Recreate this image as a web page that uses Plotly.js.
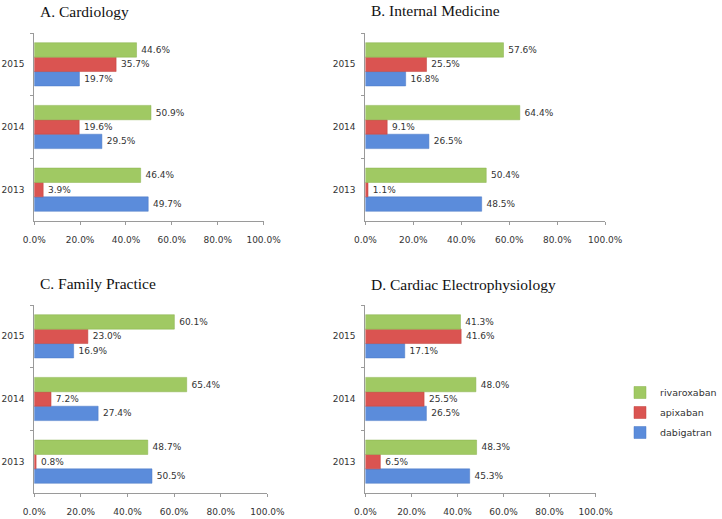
<!DOCTYPE html>
<html>
<head>
<meta charset="utf-8">
<script src="https://cdn.plot.ly/plotly-3.0.1.min.js"></script>
<style>html,body{margin:0;padding:0;background:#fff}#chart{width:722px;height:519px}</style>
</head>
<body>
<div id="chart"></div>
<script>
var years = ['2013', '2014', '2015'];
var seriesNames = ['dabigatran', 'apixaban', 'rivaroxaban'];
var panelTitles = ['A. Cardiology', 'B. Internal Medicine', 'C. Family Practice', 'D. Cardiac Electrophysiology'];
var tickVals = [0, 20, 40, 60, 80, 100];

// values in percent, order: 2013, 2014, 2015
var cardiologyDabigatran = [49.7, 29.5, 19.7];
var cardiologyApixaban = [3.9, 19.6, 35.7];
var cardiologyRivaroxaban = [46.4, 50.9, 44.6];

var internalDabigatran = [48.5, 26.5, 16.8];
var internalApixaban = [1.1, 9.1, 25.5];
var internalRivaroxaban = [50.4, 64.4, 57.6];

var familyDabigatran = [50.5, 27.4, 16.9];
var familyApixaban = [0.8, 7.2, 23.0];
var familyRivaroxaban = [48.7, 65.4, 60.1];

var epDabigatran = [45.3, 26.5, 17.1];
var epApixaban = [6.5, 25.5, 41.6];
var epRivaroxaban = [48.3, 48.0, 41.3];

var panels = [
  [cardiologyDabigatran, cardiologyApixaban, cardiologyRivaroxaban],
  [internalDabigatran, internalApixaban, internalRivaroxaban],
  [familyDabigatran, familyApixaban, familyRivaroxaban],
  [epDabigatran, epApixaban, epRivaroxaban]
];

var colors = ['#5B8CDB', '#DA5451', '#A0C963'];
var lineColors = ['#4A78C4', '#C0403D', '#88B04C'];

var W = 722, H = 519;
// pixel boxes of plot areas: [left, right, top, bottom]
var boxes = [
  [36, 277, 33, 221],
  [384, 636, 33, 221],
  [36, 281, 305, 493],
  [384, 626, 305, 493]
];
var titlePos = [[40, 12], [388, 11], [40, 283], [388, 284]];

var data = [];
var layout = {
  width: W, height: H,
  margin: {l: 0, r: 0, t: 0, b: 0},
  paper_bgcolor: '#ffffff',
  plot_bgcolor: '#ffffff',
  barmode: 'group',
  bargap: 0.31,
  bargroupgap: 0,
  showlegend: true,
  legend: {
    x: 652 / W, y: 1 - 378 / H, xanchor: 'left', yanchor: 'top',
    traceorder: 'grouped',
    tracegroupgap: 1,
    font: {family: 'DejaVu Sans', size: 9.5, color: '#333'},
    itemwidth: 30,
    bgcolor: 'rgba(0,0,0,0)'
  },
  annotations: [],
  font: {family: 'DejaVu Sans', size: 9, color: '#333'}
};

for (var p = 0; p < 4; p++) {
  var sfx = p === 0 ? '' : String(p + 1);
  var b = boxes[p];
  for (var s = 0; s < 3; s++) {
    data.push({
      type: 'bar',
      orientation: 'h',
      name: seriesNames[s],
      y: years,
      x: panels[p][s],
      xaxis: 'x' + sfx,
      yaxis: 'y' + sfx,
      marker: {color: colors[s], line: {color: lineColors[s], width: 0.5}},
      texttemplate: '\u2009%{x:.1f}%',
      textposition: 'outside',
      constraintext: 'none',
      cliponaxis: false,
      textfont: {family: 'DejaVu Sans', size: 9, color: '#333'},
      showlegend: p === 0,
      legendgroup: seriesNames[s],
      legendrank: 1000 - s,
      hoverinfo: 'x+name'
    });
  }
  layout['xaxis' + sfx] = {
    domain: [b[0] / W, b[1] / W],
    anchor: 'y' + sfx,
    range: [0, 100],
    tickvals: tickVals,
    ticktext: tickVals.map(function (v) { return v.toFixed(1) + '%'; }),
    showgrid: false,
    zeroline: false,
    showline: true,
    linecolor: '#9a9a9a',
    linewidth: 1,
    ticks: 'outside',
    ticklen: 3,
    tickcolor: '#9a9a9a',
    ticklabelstandoff: 7,
    tickfont: {family: 'DejaVu Sans', size: 9, color: '#333'},
    fixedrange: true
  };
  layout['yaxis' + sfx] = {
    domain: [1 - b[3] / H, 1 - b[2] / H],
    anchor: 'x' + sfx,
    type: 'category',
    categoryorder: 'array',
    categoryarray: years,
    showgrid: false,
    zeroline: false,
    showline: true,
    linecolor: '#9a9a9a',
    linewidth: 1,
    ticks: 'outside',
    ticklen: 3,
    tickcolor: '#9a9a9a',
    tickson: 'boundaries',
    ticklabelstandoff: 7,
    tickfont: {family: 'DejaVu Sans', size: 9, color: '#333'},
    fixedrange: true
  };
  layout.annotations.push({
    text: panelTitles[p],
    xref: 'paper', yref: 'paper',
    x: titlePos[p][0] / W, y: 1 - titlePos[p][1] / H,
    xanchor: 'left', yanchor: 'middle',
    showarrow: false,
    font: {family: 'Liberation Serif', size: 15.5, color: '#111'}
  });
}

Plotly.newPlot('chart', data, layout, {displayModeBar: false, staticPlot: true});
</script>
</body>
</html>
